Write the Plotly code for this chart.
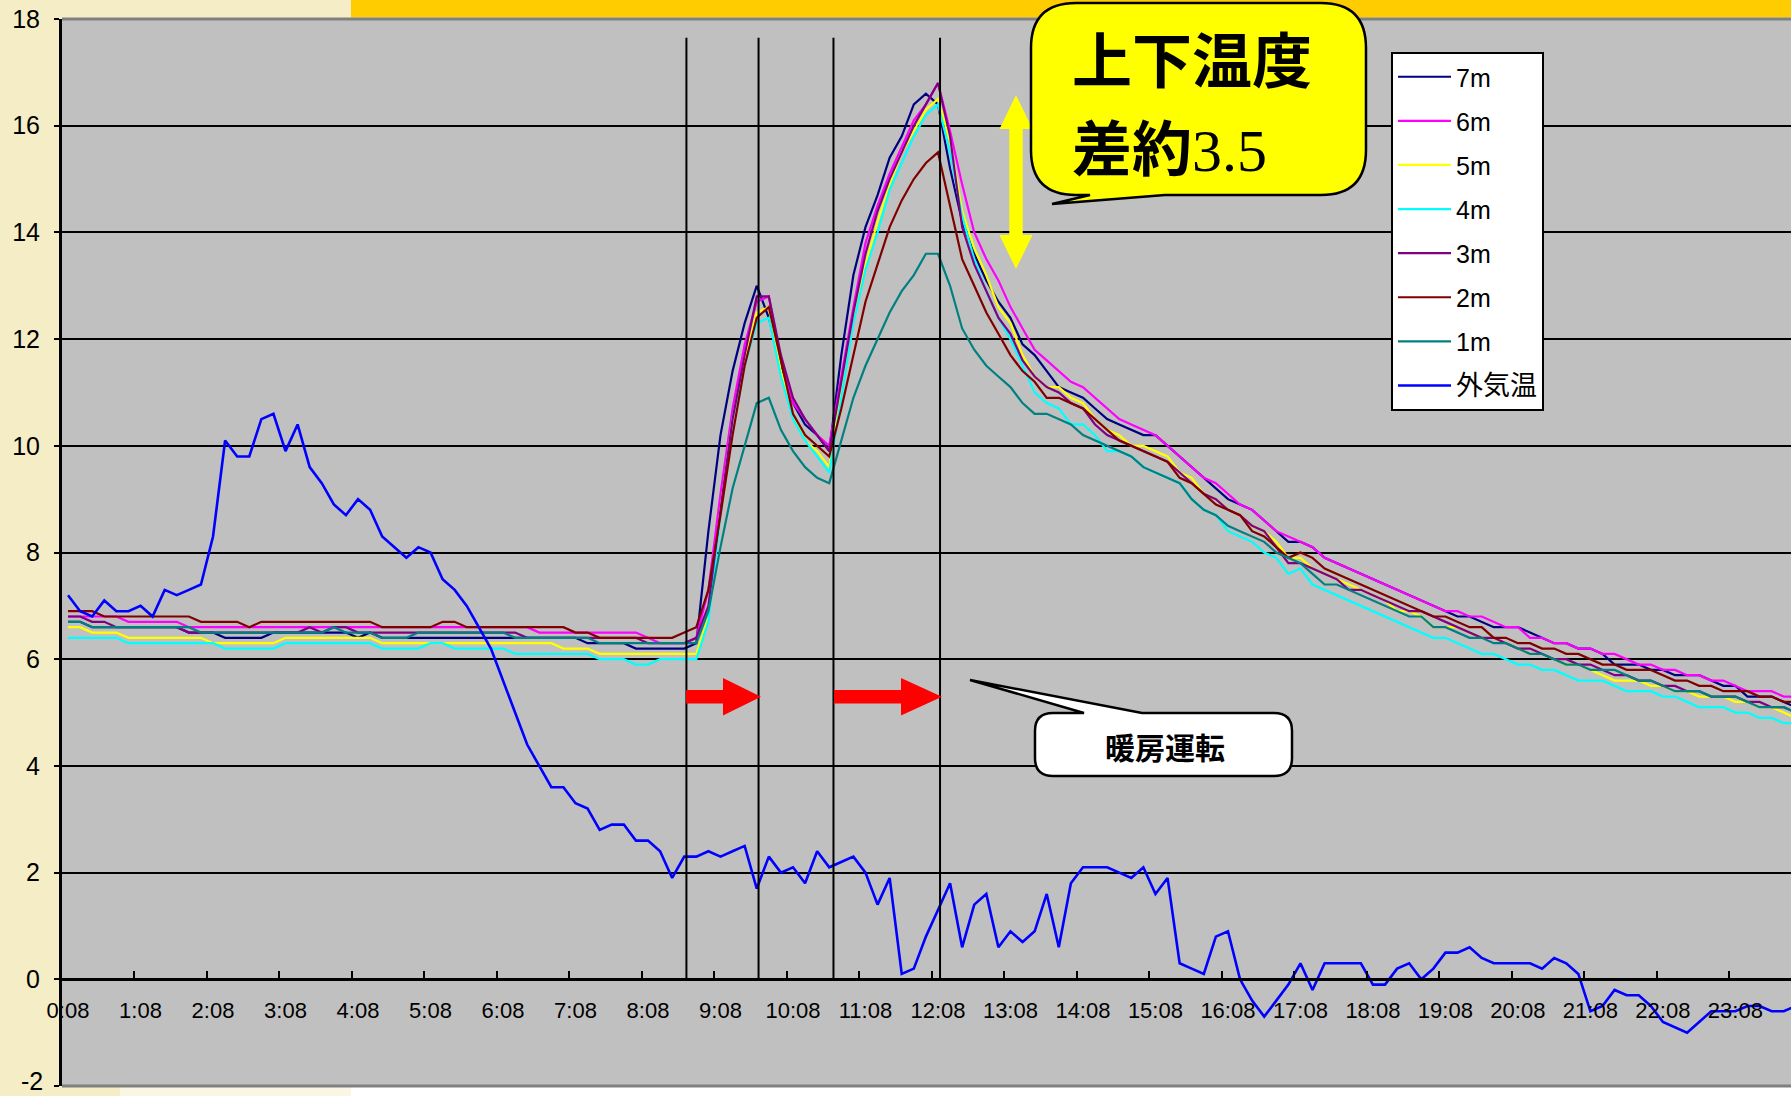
import plotly.graph_objects as go

# ---------------- data ----------------
times = [f"{(8 + 10 * k) // 60}:{(8 + 10 * k) % 60:02d}" for k in range(144)]
tick_labels = times[::6]

t7m = [
    6.7, 6.7, 6.6, 6.6, 6.6, 6.6, 6.6, 6.6, 6.6, 6.6, 6.5, 6.5,
    6.5, 6.4, 6.4, 6.4, 6.4, 6.5, 6.5, 6.5, 6.5, 6.5, 6.5, 6.5,
    6.4, 6.5, 6.4, 6.4, 6.4, 6.4, 6.4, 6.4, 6.4, 6.4, 6.4, 6.4,
    6.4, 6.4, 6.4, 6.4, 6.4, 6.4, 6.4, 6.3, 6.3, 6.3, 6.3, 6.2,
    6.2, 6.2, 6.2, 6.2, 6.3, 8.4, 10.2, 11.4, 12.3, 13.0, 12.4, 11.5,
    10.8, 10.4, 10.2, 9.9, 11.7, 13.2, 14.1, 14.7, 15.4, 15.8, 16.4, 16.6,
    16.4, 15.2, 14.2, 13.6, 13.1, 12.7, 12.4, 11.9, 11.7, 11.4, 11.1, 11.0,
    10.9, 10.7, 10.5, 10.4, 10.3, 10.2, 10.2, 10.0, 9.8, 9.6, 9.4, 9.2,
    9.0, 8.9, 8.8, 8.6, 8.4, 8.2, 8.2, 8.1, 7.9, 7.8, 7.7, 7.6,
    7.5, 7.4, 7.3, 7.2, 7.1, 7.0, 6.9, 6.8, 6.8, 6.7, 6.6, 6.6,
    6.6, 6.5, 6.4, 6.3, 6.3, 6.2, 6.2, 6.1, 5.9, 5.9, 5.9, 5.8,
    5.8, 5.7, 5.7, 5.7, 5.6, 5.5, 5.5, 5.3, 5.3, 5.3, 5.2, 5.1,
]
t6m = [
    6.8, 6.8, 6.8, 6.8, 6.8, 6.7, 6.7, 6.7, 6.7, 6.7, 6.6, 6.6,
    6.6, 6.6, 6.6, 6.6, 6.6, 6.6, 6.6, 6.6, 6.6, 6.6, 6.6, 6.6,
    6.6, 6.6, 6.6, 6.6, 6.6, 6.6, 6.6, 6.6, 6.6, 6.6, 6.6, 6.6,
    6.6, 6.6, 6.6, 6.5, 6.5, 6.5, 6.5, 6.5, 6.5, 6.5, 6.5, 6.5,
    6.4, 6.3, 6.3, 6.3, 6.4, 7.3, 9.1, 10.7, 11.9, 12.7, 12.8, 11.6,
    10.8, 10.5, 10.2, 10.0, 11.3, 12.6, 13.8, 14.5, 15.1, 15.6, 16.1, 16.4,
    16.8, 15.9, 14.9, 14.0, 13.5, 13.1, 12.6, 12.2, 11.8, 11.6, 11.4, 11.2,
    11.1, 10.9, 10.7, 10.5, 10.4, 10.3, 10.2, 10.0, 9.8, 9.6, 9.4, 9.3,
    9.1, 8.9, 8.8, 8.6, 8.4, 8.3, 8.2, 8.1, 7.9, 7.8, 7.7, 7.6,
    7.5, 7.4, 7.3, 7.2, 7.1, 7.0, 6.9, 6.9, 6.8, 6.8, 6.7, 6.6,
    6.6, 6.4, 6.4, 6.3, 6.3, 6.2, 6.2, 6.1, 6.1, 6.0, 5.9, 5.9,
    5.8, 5.8, 5.7, 5.7, 5.6, 5.6, 5.5, 5.4, 5.4, 5.4, 5.3, 5.3,
]
t5m = [
    6.6, 6.6, 6.5, 6.5, 6.5, 6.4, 6.4, 6.4, 6.4, 6.4, 6.4, 6.4,
    6.3, 6.3, 6.3, 6.3, 6.3, 6.3, 6.4, 6.4, 6.4, 6.4, 6.4, 6.4,
    6.4, 6.4, 6.3, 6.3, 6.3, 6.3, 6.3, 6.3, 6.3, 6.3, 6.3, 6.3,
    6.3, 6.3, 6.3, 6.3, 6.3, 6.2, 6.2, 6.2, 6.1, 6.1, 6.1, 6.1,
    6.1, 6.1, 6.1, 6.1, 6.1, 6.8, 8.8, 10.5, 11.6, 12.5, 12.6, 11.4,
    10.6, 10.1, 9.9, 9.6, 11.1, 12.4, 13.4, 14.2, 14.9, 15.5, 15.9, 16.3,
    16.5, 15.7, 14.4, 13.7, 13.2, 12.6, 12.3, 11.7, 11.3, 11.1, 11.1, 10.9,
    10.8, 10.5, 10.3, 10.2, 10.0, 10.0, 9.9, 9.8, 9.5, 9.4, 9.1, 9.0,
    8.8, 8.7, 8.5, 8.4, 8.2, 7.9, 7.9, 7.7, 7.6, 7.5, 7.4, 7.3,
    7.2, 7.1, 6.9, 6.9, 6.8, 6.6, 6.6, 6.6, 6.5, 6.4, 6.4, 6.3,
    6.2, 6.1, 6.1, 6.0, 5.9, 5.9, 5.8, 5.7, 5.6, 5.6, 5.6, 5.5,
    5.5, 5.4, 5.4, 5.3, 5.3, 5.3, 5.2, 5.2, 5.1, 5.1, 5.0, 4.9,
]
t4m = [
    6.4, 6.4, 6.4, 6.4, 6.4, 6.3, 6.3, 6.3, 6.3, 6.3, 6.3, 6.3,
    6.3, 6.2, 6.2, 6.2, 6.2, 6.2, 6.3, 6.3, 6.3, 6.3, 6.3, 6.3,
    6.3, 6.3, 6.2, 6.2, 6.2, 6.2, 6.3, 6.3, 6.2, 6.2, 6.2, 6.2,
    6.2, 6.1, 6.1, 6.1, 6.1, 6.1, 6.1, 6.1, 6.0, 6.0, 6.0, 5.9,
    5.9, 6.0, 6.0, 6.0, 6.0, 6.7, 8.7, 10.5, 11.5, 12.3, 12.4, 11.3,
    10.5, 10.1, 9.8, 9.5, 10.9, 12.3, 13.3, 14.0, 14.8, 15.3, 15.8, 16.2,
    16.4, 15.5, 14.3, 13.5, 12.9, 12.4, 12.0, 11.5, 11.0, 10.8, 10.7, 10.4,
    10.4, 10.2, 9.9, 9.9, 9.8, 9.6, 9.5, 9.4, 9.3, 9.0, 8.8, 8.7,
    8.4, 8.3, 8.2, 8.0, 7.9, 7.6, 7.7, 7.4, 7.3, 7.2, 7.1, 7.0,
    6.9, 6.8, 6.7, 6.6, 6.5, 6.4, 6.4, 6.3, 6.2, 6.1, 6.1, 6.0,
    5.9, 5.9, 5.8, 5.8, 5.7, 5.6, 5.6, 5.6, 5.5, 5.4, 5.4, 5.4,
    5.3, 5.3, 5.2, 5.1, 5.1, 5.1, 5.0, 5.0, 4.9, 4.9, 4.8, 4.8,
]
t3m = [
    6.8, 6.8, 6.7, 6.7, 6.6, 6.6, 6.6, 6.6, 6.6, 6.6, 6.5, 6.5,
    6.5, 6.5, 6.5, 6.5, 6.5, 6.5, 6.5, 6.5, 6.6, 6.5, 6.6, 6.6,
    6.5, 6.5, 6.5, 6.5, 6.5, 6.5, 6.5, 6.5, 6.5, 6.5, 6.5, 6.5,
    6.5, 6.5, 6.4, 6.4, 6.4, 6.4, 6.4, 6.4, 6.4, 6.4, 6.4, 6.4,
    6.3, 6.3, 6.3, 6.3, 6.4, 7.0, 8.8, 10.5, 11.7, 12.8, 12.8, 11.7,
    10.9, 10.5, 10.2, 9.9, 11.2, 12.5, 13.6, 14.4, 15.0, 15.5, 16.0, 16.4,
    16.8, 15.8, 14.1, 13.4, 12.9, 12.4, 12.1, 11.6, 11.3, 11.1, 11.0, 10.8,
    10.7, 10.4, 10.2, 10.1, 10.0, 9.9, 9.8, 9.7, 9.5, 9.3, 9.1, 9.0,
    8.8, 8.7, 8.5, 8.4, 8.1, 7.8, 7.8, 7.7, 7.6, 7.5, 7.3, 7.3,
    7.2, 7.1, 7.0, 6.9, 6.9, 6.8, 6.7, 6.6, 6.5, 6.4, 6.4, 6.3,
    6.2, 6.2, 6.1, 6.0, 6.0, 5.9, 5.9, 5.8, 5.7, 5.7, 5.6, 5.6,
    5.5, 5.5, 5.4, 5.4, 5.3, 5.3, 5.3, 5.2, 5.2, 5.1, 5.1, 5.0,
]
t2m = [
    6.9, 6.9, 6.9, 6.8, 6.8, 6.8, 6.8, 6.8, 6.8, 6.8, 6.8, 6.7,
    6.7, 6.7, 6.7, 6.6, 6.7, 6.7, 6.7, 6.7, 6.7, 6.7, 6.7, 6.7,
    6.7, 6.7, 6.6, 6.6, 6.6, 6.6, 6.6, 6.7, 6.7, 6.6, 6.6, 6.6,
    6.6, 6.6, 6.6, 6.6, 6.6, 6.6, 6.5, 6.5, 6.4, 6.4, 6.4, 6.4,
    6.4, 6.4, 6.4, 6.5, 6.6, 7.3, 8.7, 10.2, 11.5, 12.4, 12.6, 11.6,
    10.6, 10.2, 10.0, 9.8, 10.7, 11.7, 12.7, 13.4, 14.1, 14.6, 15.0, 15.3,
    15.5, 14.5, 13.5, 13.0, 12.5, 12.1, 11.7, 11.4, 11.2, 10.9, 10.9, 10.8,
    10.7, 10.5, 10.3, 10.1, 10.0, 9.9, 9.8, 9.7, 9.4, 9.3, 9.1, 8.9,
    8.8, 8.7, 8.4, 8.3, 8.1, 7.9, 8.0, 7.9, 7.7, 7.6, 7.5, 7.4,
    7.3, 7.2, 7.1, 7.0, 6.9, 6.8, 6.8, 6.7, 6.6, 6.6, 6.4, 6.4,
    6.3, 6.3, 6.2, 6.2, 6.1, 6.1, 6.0, 5.9, 5.9, 5.8, 5.8, 5.8,
    5.7, 5.6, 5.6, 5.5, 5.5, 5.4, 5.4, 5.4, 5.3, 5.3, 5.2, 5.2,
]
t1m = [
    6.7, 6.7, 6.6, 6.6, 6.6, 6.6, 6.6, 6.6, 6.6, 6.6, 6.6, 6.5,
    6.5, 6.5, 6.5, 6.5, 6.5, 6.5, 6.5, 6.5, 6.5, 6.5, 6.6, 6.5,
    6.5, 6.5, 6.4, 6.4, 6.4, 6.5, 6.5, 6.5, 6.5, 6.5, 6.5, 6.5,
    6.5, 6.4, 6.4, 6.4, 6.4, 6.4, 6.4, 6.4, 6.3, 6.3, 6.3, 6.3,
    6.3, 6.3, 6.3, 6.3, 6.3, 6.9, 8.1, 9.2, 10.0, 10.8, 10.9, 10.3,
    9.9, 9.6, 9.4, 9.3, 10.1, 10.9, 11.5, 12.0, 12.5, 12.9, 13.2, 13.6,
    13.6, 13.0, 12.2, 11.8, 11.5, 11.3, 11.1, 10.8, 10.6, 10.6, 10.5, 10.4,
    10.2, 10.1, 10.0, 9.9, 9.8, 9.6, 9.5, 9.4, 9.3, 9.0, 8.8, 8.7,
    8.5, 8.4, 8.3, 8.2, 8.0, 7.9, 7.8, 7.6, 7.4, 7.4, 7.3, 7.2,
    7.1, 7.0, 6.9, 6.8, 6.8, 6.6, 6.6, 6.5, 6.4, 6.4, 6.3, 6.3,
    6.2, 6.1, 6.1, 6.0, 5.9, 5.9, 5.8, 5.8, 5.8, 5.7, 5.6, 5.6,
    5.5, 5.4, 5.4, 5.4, 5.3, 5.3, 5.3, 5.2, 5.1, 5.1, 5.1, 5.0,
]
t_out = [
    7.2, 6.9, 6.8, 7.1, 6.9, 6.9, 7.0, 6.8, 7.3, 7.2, 7.3, 7.4,
    8.3, 10.1, 9.8, 9.8, 10.5, 10.6, 9.9, 10.4, 9.6, 9.3, 8.9, 8.7,
    9.0, 8.8, 8.3, 8.1, 7.9, 8.1, 8.0, 7.5, 7.3, 7.0, 6.6, 6.2,
    5.6, 5.0, 4.4, 4.0, 3.6, 3.6, 3.3, 3.2, 2.8, 2.9, 2.9, 2.6,
    2.6, 2.4, 1.9, 2.3, 2.3, 2.4, 2.3, 2.4, 2.5, 1.7, 2.3, 2.0,
    2.1, 1.8, 2.4, 2.1, 2.2, 2.3, 2.0, 1.4, 1.9, 0.1, 0.2, 0.8,
    1.3, 1.8, 0.6, 1.4, 1.6, 0.6, 0.9, 0.7, 0.9, 1.6, 0.6, 1.8,
    2.1, 2.1, 2.1, 2.0, 1.9, 2.1, 1.6, 1.9, 0.3, 0.2, 0.1, 0.8,
    0.9, 0.0, -0.4, -0.7, -0.4, -0.1, 0.3, -0.2, 0.3, 0.3, 0.3, 0.3,
    -0.1, -0.1, 0.2, 0.3, 0.0, 0.2, 0.5, 0.5, 0.6, 0.4, 0.3, 0.3,
    0.3, 0.3, 0.2, 0.4, 0.3, 0.1, -0.6, -0.5, -0.2, -0.3, -0.3, -0.5,
    -0.8, -0.9, -1.0, -0.8, -0.6, -0.6, -0.6, -0.5, -0.5, -0.6, -0.6, -0.5,
]

series_names = ["7m", "6m", "5m", "4m", "3m", "2m", "1m", "外気温"]
series_values = [t7m, t6m, t5m, t4m, t3m, t2m, t1m, t_out]
series_colors = ["#000080", "#FF00FF", "#FFFF00", "#00FFFF",
                 "#800080", "#800000", "#008080", "#0000FF"]

heat_marks = [51.18, 57.15, 63.35, 72.17]   # heating on/off markers (category position)
y_ticks = list(range(-2, 19, 2))
y_tick_text = [""] + [str(v) for v in y_ticks[1:]]   # "-2" drawn separately (edge of page)

# ---------------- geometry helpers (pixel -> paper) ----------------
FW, FH = 1791, 1096
L, T, W, H = 62, 19, 1729, 1067


def px(x):
    return (x - L) / W


def py(y):
    return (T + H - y) / H


def path(points, close=True):
    s = ""
    for cmd, pts in points:
        s += cmd + " " + " ".join(f"{px(a):.5f},{py(b):.5f}" for a, b in pts) + " "
    return s + ("Z" if close else "")


def rounded_box(x0, y0, x1, y1, r, top_tail=None, bottom_tail=None):
    seq = [("M", [(x0 + r, y0)])]
    if top_tail:
        a, tip, b = top_tail
        seq += [("L", [a]), ("L", [tip]), ("L", [b])]
    seq += [("L", [(x1 - r, y0)]), ("Q", [(x1, y0), (x1, y0 + r)]),
            ("L", [(x1, y1 - r)]), ("Q", [(x1, y1), (x1 - r, y1)])]
    if bottom_tail:
        a, tip, b = bottom_tail
        seq += [("L", [a]), ("L", [tip]), ("L", [b])]
    seq += [("L", [(x0 + r, y1)]), ("Q", [(x0, y1), (x0, y1 - r)]),
            ("L", [(x0, y0 + r)]), ("Q", [(x0, y0), (x0 + r, y0)])]
    return path(seq)


def right_arrow(xs, xh, xt, yc, hs, hh):
    pts = [(xs, yc - hs), (xh, yc - hs), (xh, yc - hh), (xt, yc),
           (xh, yc + hh), (xh, yc + hs), (xs, yc + hs)]
    return path([("M", [pts[0]])] + [("L", [p]) for p in pts[1:]])


def double_v_arrow(xc, ytop, ybot, head, hs, hh):
    pts = [(xc, ytop), (xc + hh, ytop + head), (xc + hs, ytop + head),
           (xc + hs, ybot - head), (xc + hh, ybot - head), (xc, ybot),
           (xc - hh, ybot - head), (xc - hs, ybot - head),
           (xc - hs, ytop + head), (xc - hh, ytop + head)]
    return path([("M", [pts[0]])] + [("L", [p]) for p in pts[1:]])


LAT = "Liberation Sans, Arial, Noto Sans CJK JP, sans-serif"
NARROW = "Liberation Sans Narrow, Arial Narrow, Liberation Sans, Arial, sans-serif"
CJK = "Noto Sans CJK JP, Noto Sans CJK SC, sans-serif"

fig = go.Figure()
xs = list(range(len(times)))
for i, (name, vals, col) in enumerate(zip(series_names, series_values, series_colors)):
    label = name if name.isascii() else f'<span style="font-size:27px">{name}</span>'
    fig.add_trace(go.Scatter(
        x=xs, y=vals, mode="lines", name=label, legendgroup=name,
        line=dict(color=col, width=2.6 if name == "外気温" else 2.2),
        text=times, hovertemplate="%{text}: %{y}<extra>" + name + "</extra>",
    ))

shapes = []
# page decorations
shapes.append(dict(type="rect", xref="paper", yref="paper", x0=px(351), x1=px(FW),
                   y0=py(17.5), y1=py(0), fillcolor="#FFCC00", line=dict(width=0), layer="below"))
shapes.append(dict(type="rect", xref="paper", yref="paper", x0=px(120), x1=px(351),
                   y0=py(FH), y1=py(1087), fillcolor="#FBF6E4", line=dict(width=0), layer="below"))
shapes.append(dict(type="rect", xref="paper", yref="paper", x0=px(351), x1=px(FW),
                   y0=py(FH), y1=py(1087), fillcolor="#FFFFFF", line=dict(width=0), layer="below"))
# plot frame top/bottom (grey)
for yy in (1, 0):
    shapes.append(dict(type="line", xref="paper", yref="paper", x0=0, x1=1, y0=yy, y1=yy,
                       line=dict(color="#808080", width=3)))
# heating period markers
for hx in heat_marks:
    shapes.append(dict(type="line", xref="x", yref="y", x0=hx, x1=hx, y0=0, y1=17.65,
                       line=dict(color="black", width=2)))
# red arrows
shapes.append(dict(type="path", xref="paper", yref="paper",
                   path=right_arrow(686, 723, 761, 696.7, 6.7, 18.7),
                   fillcolor="#FF0000", line=dict(width=0)))
shapes.append(dict(type="path", xref="paper", yref="paper",
                   path=right_arrow(834, 901, 942, 696.7, 6.7, 18.7),
                   fillcolor="#FF0000", line=dict(width=0)))
# yellow double arrow
shapes.append(dict(type="path", xref="paper", yref="paper",
                   path=double_v_arrow(1016, 95, 269, 34, 6.7, 16.5),
                   fillcolor="#FFFF00", line=dict(width=0)))
# yellow callout
shapes.append(dict(type="path", xref="paper", yref="paper",
                   path=rounded_box(1031, 3, 1366, 195, 45,
                                    bottom_tail=[(1165, 195), (1052, 204), (1090, 195)]),
                   fillcolor="#FFFF00", line=dict(color="black", width=2.5)))
# white callout
shapes.append(dict(type="path", xref="paper", yref="paper",
                   path=rounded_box(1035, 713, 1292, 776, 18,
                                    top_tail=[(1084, 713), (970, 680), (1142, 713)]),
                   fillcolor="#FFFFFF", line=dict(color="black", width=2.5)))

big = 'style="font-size:60px"'
serif = 'style="font-size:60px;font-family:Liberation Serif, Times New Roman, serif"'
annotations = [
    dict(xref="paper", yref="paper", x=px(1070), y=py(100), xanchor="left", yanchor="middle",
         align="left",
         text=f"<span {big}><b>上下温度</b></span><br>"
              f"<span {big}><b>差約</b></span><span {serif}>3.5</span>",
         showarrow=False, font=dict(family=CJK, size=68, color="black")),
    dict(xref="paper", yref="paper", x=px(1165), y=py(746), xanchor="center", yanchor="middle",
         text="<b>暖房運転</b>", showarrow=False,
         font=dict(family=CJK, size=30, color="black")),
    # lowest y tick label, kept inside the page
    dict(xref="paper", yref="paper", x=px(44), y=py(FH), xanchor="right", yanchor="bottom",
         text=str(y_ticks[0]), showarrow=False, borderpad=0,
         font=dict(family=NARROW, size=25, color="black")),
]

fig.update_layout(
    width=FW, height=FH,
    margin=dict(l=L, r=0, t=T, b=FH - T - H, pad=0, autoexpand=False),
    paper_bgcolor="#F5EDC5",
    plot_bgcolor="#C0C0C0",
    showlegend=True,
    legend=dict(x=px(1391), y=py(52), xanchor="left", yanchor="top",
                bgcolor="white", bordercolor="black", borderwidth=2,
                font=dict(family=LAT, size=25, color="black"),
                tracegroupgap=8.6, itemwidth=53, traceorder="grouped"),
    xaxis=dict(range=[-0.5, 142.6], anchor="free", position=0.1, automargin=False,
               tickmode="array", tickvals=[6 * k - 0.5 for k in range(len(tick_labels))],
               ticktext=tick_labels, ticklabelshift=6, ticklabelstandoff=10,
               ticks="inside", ticklen=7, tickwidth=2, tickcolor="black",
               showline=True, linecolor="black", linewidth=3,
               showgrid=False, zeroline=False,
               tickfont=dict(family=NARROW, size=22, color="black")),
    yaxis=dict(range=[-2, 18], tickmode="array", tickvals=y_ticks, ticktext=y_tick_text,
               automargin=False,
               ticks="outside", ticklen=5, tickwidth=2, tickcolor="black",
               ticklabelstandoff=9,
               showline=True, linecolor="black", linewidth=3,
               showgrid=True, gridcolor="black", gridwidth=2, zeroline=False,
               tickfont=dict(family=NARROW, size=25, color="black")),
    shapes=shapes,
    annotations=annotations,
)

fig.write_html("out.html", config={"displayModeBar": False},
               post_script="document.body.style.margin='0px';")
